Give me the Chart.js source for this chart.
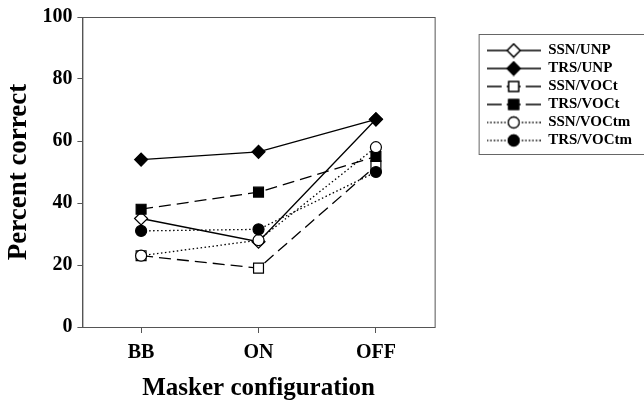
<!DOCTYPE html>
<html>
<head>
<meta charset="utf-8">
<script src="https://cdn.jsdelivr.net/npm/chart.js@4/dist/chart.umd.min.js"></script>
<style>
  html, body { margin: 0; padding: 0; background: #fff; }
  #wrap { width: 644px; height: 406px; }
</style>
</head>
<body>
<div id="wrap"><canvas id="chart"></canvas></div>
<script>
// Data
const categories = ['BB', 'ON', 'OFF'];
const seriesNames = ['SSN/UNP', 'TRS/UNP', 'SSN/VOCt', 'TRS/VOCt', 'SSN/VOCtm', 'TRS/VOCtm'];
const ssnUnp = [35, 27.5, 67];
const trsUnp = [54, 56.5, 67];
const ssnVoct = [23, 19, 52];
const trsVoct = [38, 43.5, 55];
const ssnVoctm = [23, 28, 58];
const trsVoctm = [31, 31.5, 50];
const yTicks = [0, 20, 40, 60, 80, 100];

const serif = '"Liberation Serif", "Times New Roman", serif';
const axisColor = '#555';

// marker / line look for each series
const styles = [
  { data: ssnUnp, shape: 'rectRot', r: 6.5, filled: false, dash: [] },
  { data: trsUnp, shape: 'rectRot', r: 6.5, filled: true, dash: [] },
  { data: ssnVoct, shape: 'rect', r: 7, filled: false, dash: [12, 6] },
  { data: trsVoct, shape: 'rect', r: 7, filled: true, dash: [12, 6] },
  { data: ssnVoctm, shape: 'circle', r: 5.5, filled: false, dash: [1.5, 2.5] },
  { data: trsVoctm, shape: 'circle', r: 5.5, filled: true, dash: [1.5, 2.5] }
];

// small canvas used as the legend symbol: line segment with the marker in the middle
function legendIcon(s) {
  const c = document.createElement('canvas');
  c.width = 54;
  c.height = 16;
  const ctx = c.getContext('2d');
  ctx.strokeStyle = '#000';
  ctx.lineWidth = 1.3;
  if (s.shape === 'rect') ctx.setLineDash([15, 5]);
  if (s.shape === 'circle') ctx.setLineDash([1.5, 2]);
  ctx.beginPath();
  ctx.moveTo(0, 8);
  ctx.lineTo(27, 8);
  ctx.moveTo(54, 8);
  ctx.lineTo(27, 8);
  ctx.stroke();
  ctx.setLineDash([]);
  Chart.helpers.drawPoint(ctx, {
    pointStyle: s.shape,
    radius: s.r,
    borderWidth: 1.2
  }, 27, 8);
  ctx.fillStyle = s.filled ? '#000' : '#fff';
  ctx.fill();
  ctx.stroke();
  return c;
}

const datasets = styles.map((s, i) => ({
  label: seriesNames[i],
  data: s.data,
  borderColor: '#000',
  borderWidth: 1.3,
  borderDash: s.dash,
  pointStyle: s.shape,
  pointRadius: s.r,
  pointHoverRadius: s.r,
  pointBorderWidth: 1.2,
  pointBorderColor: '#000',
  pointBackgroundColor: s.filled ? '#000' : '#fff',
  legendIcon: legendIcon(s),
  order: styles.length - i,
  tension: 0,
  fill: false
}));

const frame = {
  id: 'frame',
  afterDraw(chart) {
    const { ctx, chartArea } = chart;
    ctx.save();
    ctx.strokeStyle = axisColor;
    ctx.lineWidth = 1;
    ctx.strokeRect(chartArea.left + 0.5, chartArea.top + 0.5, chartArea.right - chartArea.left, chartArea.bottom - chartArea.top);
    const boxes = chart.legend.legendHitBoxes;
    if (boxes && boxes.length) {
      const top = boxes[0].top - 9;
      const last = boxes[boxes.length - 1];
      const bottom = last.top + last.height + 6;
      const left = boxes[0].left - 8;
      ctx.strokeStyle = '#666';
      ctx.strokeRect(left + 0.5, top + 0.5, chart.width - left + 5, bottom - top);
    }
    ctx.restore();
  }
};

new Chart(document.getElementById('chart'), {
  type: 'line',
  data: {
    labels: categories,
    datasets: datasets
  },
  plugins: [frame],
  options: {
    responsive: true,
    maintainAspectRatio: false,
    animation: false,
    layout: { padding: { top: 5, right: 2, left: 0, bottom: 0 } },
    plugins: {
      tooltip: { enabled: false },
      legend: {
        position: 'right',
        align: 'start',
        maxWidth: 170,
        title: { display: true, text: '', font: { size: 10 }, padding: { top: 23, bottom: 0 } },
        labels: {
          usePointStyle: true,
          pointStyleWidth: 54,
          padding: 3,
          color: '#000',
          font: { family: serif, size: 15, weight: 'bold' },
          sort: (a, b) => a.datasetIndex - b.datasetIndex,
          generateLabels(chart) {
            return chart.data.datasets.map((ds, i) => ({
              text: ds.label,
              datasetIndex: i,
              pointStyle: ds.legendIcon,
              fillStyle: '#000',
              strokeStyle: '#000',
              lineWidth: 0,
              hidden: false,
              fontColor: '#000'
            }));
          }
        }
      }
    },
    scales: {
      x: {
        type: 'category',
        offset: true,
        grid: { display: true, drawOnChartArea: false, drawTicks: true, tickLength: 6, color: axisColor },
        border: { display: true, color: axisColor },
        ticks: { color: '#000', padding: 8, font: { family: serif, size: 20, weight: 'bold' } },
        title: { display: true, text: 'Masker configuration', color: '#000', padding: { top: 1, bottom: 2 }, font: { family: serif, size: 25, weight: 'bold' } }
      },
      y: {
        min: 0,
        max: 100,
        afterBuildTicks(axis) {
          axis.ticks = yTicks.map(v => ({ value: v }));
        },
        grid: { display: true, drawOnChartArea: false, drawTicks: true, tickLength: 5, color: axisColor },
        border: { display: true, color: axisColor },
        ticks: { color: '#000', padding: 5, font: { family: serif, size: 20, weight: 'bold' } },
        title: { display: true, text: 'Percent correct', color: '#000', padding: { top: 3, bottom: 2 }, font: { family: serif, size: 27, weight: 'bold' } }
      },
      gap: {
        position: 'right',
        display: true,
        grid: { display: false },
        border: { display: false },
        ticks: { display: false },
        afterFit(axis) {
          axis.width = 49;
        }
      }
    }
  }
});
</script>
</body>
</html>
